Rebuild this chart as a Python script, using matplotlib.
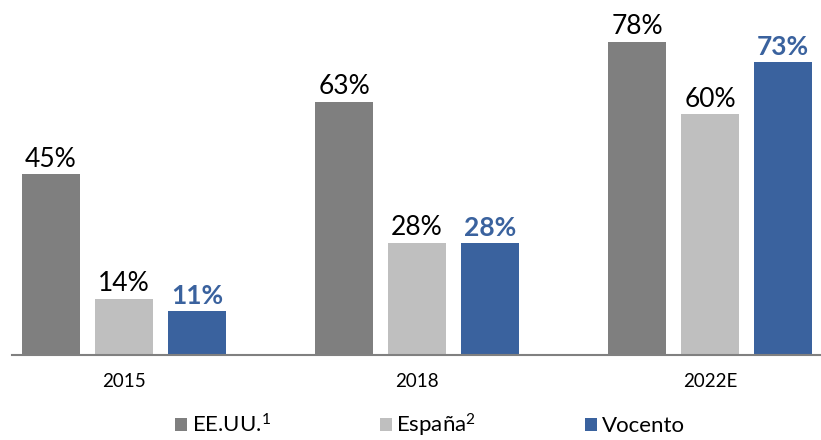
import matplotlib
matplotlib.use("Agg")
import matplotlib.pyplot as plt
from matplotlib.patches import Patch
import numpy as np

plt.rcParams['font.family'] = ['Lato', 'DejaVu Sans']
plt.rcParams['mathtext.fontset'] = 'custom'
plt.rcParams['mathtext.rm'] = 'Lato'
plt.rcParams['mathtext.it'] = 'Lato'
plt.rcParams['mathtext.bf'] = 'Lato:bold'

categories = ["2015", "2018", "2022E"]
series_names = ["EE.UU.$^{1}$", "España$^{2}$", "Vocento"]
eeuu = [45, 63, 78]
espana = [14, 28, 60]
vocento = [11, 28, 73]
colors = ["#7f7f7f", "#bfbfbf", "#3a629e"]
label_colors = ["#000000", "#000000", "#3a629e"]
label_weights = ["normal", "normal", "bold"]

fig = plt.figure(figsize=(8.21, 4.40), dpi=100)
ax = fig.add_axes([12/821, 85/440, 810/821, 341/440])

x = np.arange(len(categories))
w = 0.198
step = 0.249
for i, (vals, c, lc, lw) in enumerate(zip([eeuu, espana, vocento], colors, label_colors, label_weights)):
    pos = x + (i - 1) * step
    bars = ax.bar(pos, vals, width=w, color=c, zorder=2)
    for b, v in zip(bars, vals):
        ax.annotate(f"{v}%", (b.get_x() + b.get_width()/2, v), xytext=(0, 2),
                    textcoords="offset points", ha="center", va="bottom",
                    fontsize=19, color=lc, fontweight=lw)

ax.set_xlim(-0.382, 2.382)
ax.set_ylim(0, 85)
for s in ["top", "right", "left"]:
    ax.spines[s].set_visible(False)
ax.spines["bottom"].set_color("#808080")
ax.spines["bottom"].set_linewidth(1.5)
ax.set_yticks([])
ax.set_xticks(x)
ax.set_xticklabels(categories, fontsize=13.5)
ax.tick_params(axis="x", length=0, pad=13)

handles = [Patch(facecolor=c, edgecolor="none") for c in colors]
fig.legend(handles, series_names, loc="center", bbox_to_anchor=(430/821, 1 - 425/440),
           ncol=3, frameon=False, fontsize=16, handlelength=0.55, handleheight=0.55,
           handletextpad=0.2, columnspacing=4.9, borderpad=0.2)

fig.savefig("out.png", dpi=100)
